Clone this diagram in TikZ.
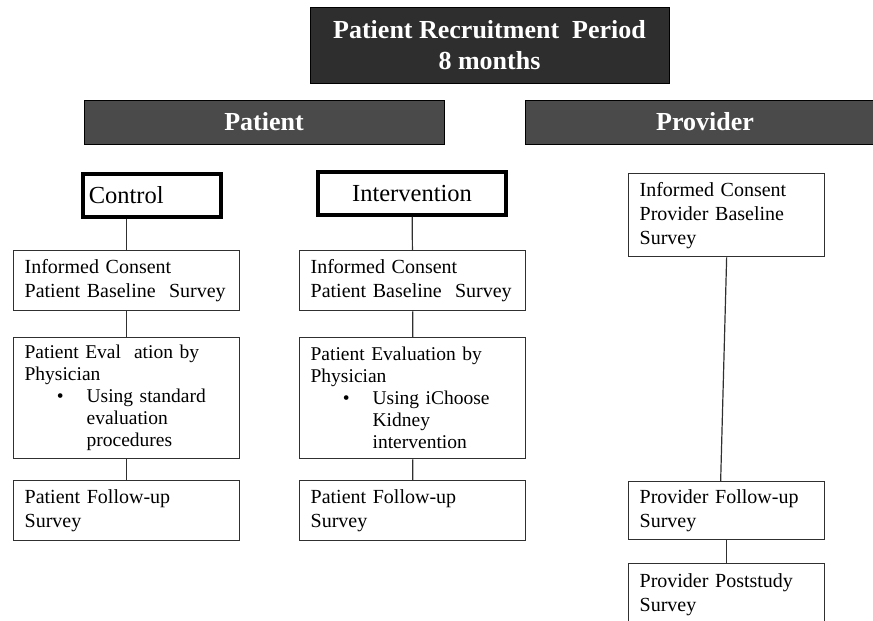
\documentclass[tikz,border=0pt]{standalone}
\usepackage{fontspec}
\setmainfont{Liberation Serif}
\usetikzlibrary{positioning,calc}
\definecolor{titlegray}{HTML}{2E2E2E}
\definecolor{bargray}{HTML}{4A4A4A}
\definecolor{edgegray}{HTML}{303030}
\tikzset{
	banner/.style={draw=black, line width=1pt, fill=titlegray, text=white, font=\fontsize{26}{31}\selectfont\bfseries, align=center, inner sep=0pt},
	armbar/.style={banner, fill=bargray, minimum width=360pt, minimum height=44pt},
	armhead/.style={draw=black, line width=3.5pt, font=\fontsize{24.5}{28}\selectfont, inner sep=0pt, minimum height=43pt},
	stepbox/.style={draw=edgegray, line width=1.3pt, font=\fontsize{20}{24}\selectfont, align=left, anchor=north west, inner xsep=11pt, inner ysep=0pt},
	colbox/.style={stepbox, minimum width=226pt, text width=204pt},
	provbox/.style={stepbox, minimum width=196pt, text width=174pt},
	link/.style={draw=edgegray, line width=1.2pt}
}
\newcommand{\bul}{\makebox[62pt][r]{\textbullet\hspace{23pt}}}
\newcommand{\ind}{\hspace*{62pt}}
\begin{document}
\begin{tikzpicture}[x=1pt, y=-1pt]
	\useasboundingbox (0,0) rectangle (873,621);
	\node[banner, minimum width=359pt, minimum height=76pt] (period) at (489.5,45) {Patient Recruitment\ \ Period\\8 months};
	\node[armbar] (patient) at (264,122) {Patient};
	\node[armbar] (provider) at (705,122) {Provider};
	\node[armhead, anchor=north west, minimum width=138pt, text width=126pt, inner xsep=6pt, align=left] (ctl) at (81,172) {Control};
	\node[armhead, minimum width=188pt] (itv) at (412,193.5) {Intervention};
	\node[colbox, minimum height=60pt] (c1) at (13,250) {Informed Consent\\Patient Baseline\ \ Survey};
	\node[colbox, minimum height=121pt, font=\fontsize{19.5}{22}\selectfont] (c2) at (13,337) {Patient Eval\ \ ation by\\Physician\\\bul Using standard\\\ind evaluation\\\ind procedures};
	\node[colbox, minimum height=60pt] (c3) at (13,480) {Patient Follow-up\\Survey};
	\node[colbox, minimum height=60pt] (i1) at (299,250) {Informed Consent\\Patient Baseline\ \ Survey};
	\node[colbox, minimum height=121pt, font=\fontsize{19.5}{22}\selectfont] (i2) at (299,337) {Patient Evaluation by\\Physician\\\bul Using iChoose\\\ind Kidney\\\ind intervention};
	\node[colbox, minimum height=60pt] (i3) at (299,480) {Patient Follow-up\\Survey};
	\node[provbox, minimum height=83pt] (p1) at (628,173) {Informed Consent\\Provider Baseline\\Survey};
	\node[provbox, minimum height=58pt] (p2) at (628,481) {Provider Follow-up\\Survey};
	\node[provbox, minimum height=62pt] (p3) at (628,563) {Provider Poststudy\\Survey};
	\draw[link] (c1.north |- ctl.south) -- (c1);
	\draw[link] (c1) -- (c2) -- (c3);
	\draw[link] (itv) -- (i1) -- (i2) -- (i3);
	\draw[link] (p1.south) -- ($(p2.north)+(-6,0)$);
	\draw[link] (p2) -- (p3);
\end{tikzpicture}
\end{document}
